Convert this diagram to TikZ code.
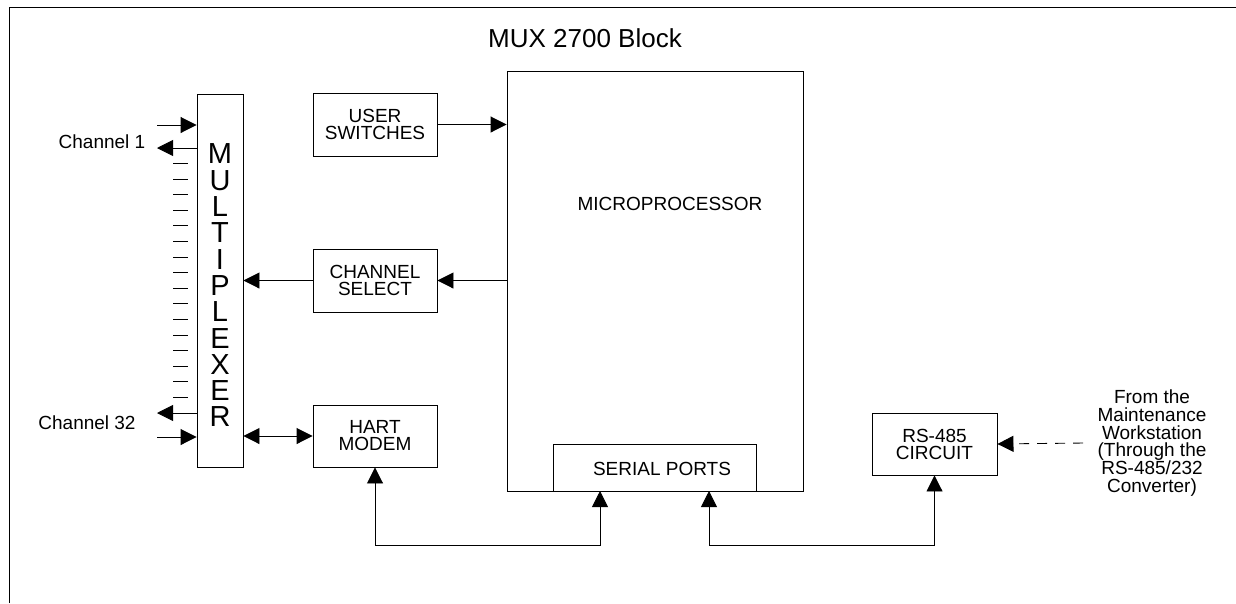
\documentclass[tikz,border=0pt]{standalone}
\usepackage{fontspec}
\setmainfont{Liberation Sans}
\usetikzlibrary{arrows.meta}
\begin{document}
\begin{tikzpicture}[x=1pt,y=-1pt,>={Triangle[length=16pt,width=16pt]}, line width=0.9pt, font=\fontsize{19}{17}\selectfont]
			\tikzset{blockbox/.style={draw,inner sep=0pt,align=center,minimum width=124pt,minimum height=63pt}}
			\useasboundingbox (0,0) rectangle (1236,603);
			\draw (9,603)--(9,7)--(1236,7);
			\node[anchor=base,font=\fontsize{26}{26}\selectfont] (title) at (585,47) {MUX 2700 Block};
			\node[draw,minimum width=296pt,minimum height=420pt] (micro) at (655,281) {};
			\node (microtxt) at (670,204) {MICROPROCESSOR};
			\node[blockbox] (user) at (375,124.5) {USER\\SWITCHES};
			\node[blockbox] (chsel) at (375,280.5) {CHANNEL\\SELECT};
			\node[blockbox,minimum height=62pt] (hart) at (375,436) {HART\\MODEM};
			\node[blockbox,minimum width=203pt,minimum height=47pt] (serial) at (654.5,467.5) {};
			\node (serialtxt) at (662,469) {SERIAL PORTS};
			\node[blockbox,minimum width=125pt,minimum height=62pt] (rs) at (934.5,444) {RS-485\\CIRCUIT};
			\node[draw,minimum width=46pt,minimum height=373pt] (mux) at (220,280.5) {};
			\foreach \l [count=\i from 0] in {M,U,L,T,I,P,L,E,X,E,R}
				\node[font=\fontsize{29}{29}\selectfont] (m\i) at (220,154+26.3*\i) {\l};
			\foreach \i in {0,...,15}
				\draw[line width=0.7pt] (173,163.3+15.6*\i)--(188,163.3+15.6*\i);
			\node[anchor=base,font=\fontsize{19}{19}\selectfont] (ch1) at (102,148) {Channel 1};
			\node[anchor=base,font=\fontsize{19}{19}\selectfont] (ch32) at (87,429.5) {Channel 32};
			\node[align=center,font=\fontsize{19}{17.8}\selectfont] (ws) at (1152,443) {From the\\Maintenance\\Workstation\\(Through the\\RS-485/232\\Converter)};
			\coordinate (c1in) at (157,125);
			\coordinate (c1out) at (157,148);
			\coordinate (c32out) at (157,413);
			\coordinate (c32in) at (157,437);
			\coordinate (wsend) at (1083,443);
			\coordinate (sp1) at (600,491);
			\coordinate (sp2) at (709,491);
			\draw[->] (c1in)--(c1in -| mux.west);
			\draw[->] (c1out -| mux.west)--(c1out);
			\draw[->] (c32out -| mux.west)--(c32out);
			\draw[->] (c32in)--(c32in -| mux.west);
			\draw[->] (user.east)--(user.east -| micro.west);
			\draw[->] (chsel.east -| micro.west)--(chsel.east);
			\draw[->] (chsel.west)--(chsel.west -| mux.east);
			\draw[<->] (hart.west -| mux.east)--(hart.west);
			\draw[<->] (hart.south)--++(0,78)-|(sp1);
			\draw[<->] (sp2)--++(0,54)-|(rs.south);
			\draw[->,dash pattern=on 10pt off 8pt] (wsend)--(rs.east);
		\end{tikzpicture}
\end{document}
